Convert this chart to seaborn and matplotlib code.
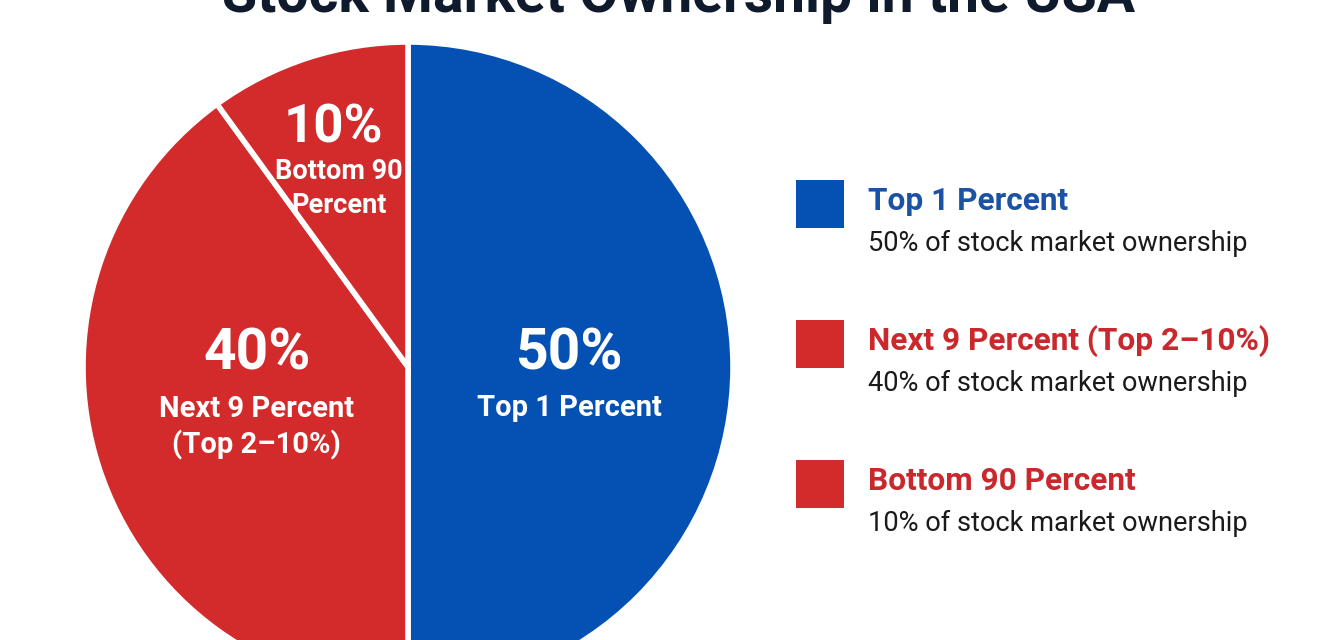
import matplotlib
matplotlib.use("Agg")
import matplotlib.pyplot as plt
import seaborn as sns
from matplotlib.patches import Rectangle

# datos del grafico
grupos = ["Top 1 Percent", "Next 9 Percent (Top 2–10%)", "Bottom 90 Percent"]
porcentajes = [50, 40, 10]
etiquetas_pie = ["Top 1 Percent", "Next 9 Percent\n(Top 2–10%)", "Bottom 90\nPercent"]
descripciones = ["50% of stock market ownership",
                 "40% of stock market ownership",
                 "10% of stock market ownership"]
titulo = "Stock Market Ownership in the USA"

sns.set_theme(style="white")
plt.rcParams['font.family'] = ['Roboto', 'DejaVu Sans']

colores = ["#0451b3", "#d32a2b", "#d32a2b"]
colores_texto = ["#1b52a3", "#c9282d", "#c9282d"]

W, H = 1344, 640
fig = plt.figure(figsize=(W / 100, H / 100), dpi=100)
fig.patch.set_facecolor("white")

# eje del pie: centro (408, 367) px, radio 325 px
cx, cy, r = 408, 367, 325
ax = fig.add_axes([(cx - r) / W, (H - cy - r) / H, 2 * r / W, 2 * r / H])
ax.pie(
    porcentajes,
    colors=colores,
    startangle=90,
    counterclock=False,
    wedgeprops={"edgecolor": "white", "linewidth": 4},
)
ax.set_xlim(-1, 1)
ax.set_ylim(-1, 1)
ax.set_aspect("equal")
ax.axis("off")

# posiciones de las etiquetas dentro del pie (coords de datos)
pos_pct = [(0.498, 0.040), (-0.465, 0.040), (-0.231, 0.735)]
pos_lab = [(0.498, -0.126), (-0.465, -0.186), (-0.212, 0.549)]
tam_pct = [41, 41, 38]
tam_lab = [21, 21, 19.5]
for i in range(len(porcentajes)):
    ax.text(pos_pct[i][0], pos_pct[i][1], f"{porcentajes[i]}%",
            ha="center", va="center", color="white",
            fontsize=tam_pct[i], fontweight="bold")
    ax.text(pos_lab[i][0], pos_lab[i][1], etiquetas_pie[i],
            ha="center", va="center", color="white",
            fontsize=tam_lab[i], fontweight="semibold",
            linespacing=1.3)

# titulo (cortado arriba como en la imagen)
fig.text(0.505, 1 - 12 / H, titulo, ha="center", va="baseline",
         fontsize=41, fontweight="bold", color="#0f1a2c")

# leyenda manual
y_cuadros = [180, 320, 460]
for i in range(len(grupos)):
    y0 = y_cuadros[i]
    fig.patches.append(Rectangle((796 / W, 1 - (y0 + 48) / H), 48 / W, 48 / H,
                                 transform=fig.transFigure, facecolor=colores[i],
                                 edgecolor="none"))
    fig.text(868 / W, 1 - (y0 + 21) / H, grupos[i], ha="left", va="center",
             fontsize=22.8, fontweight="bold", color=colores_texto[i])
    fig.text(868 / W, 1 - (y0 + 63) / H, descripciones[i], ha="left", va="center",
             fontsize=19.6, color="#1a1a1a")

fig.savefig("out.png", dpi=100)
